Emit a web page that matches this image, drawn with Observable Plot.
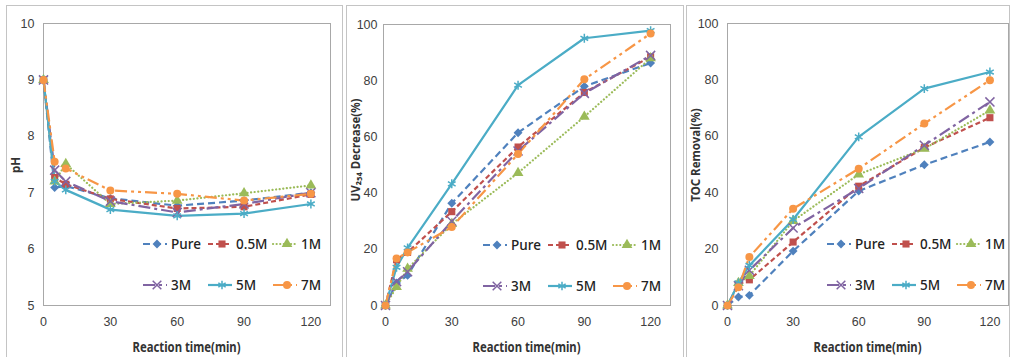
<!DOCTYPE html>
<html>
<head>
<meta charset="utf-8">
<script src="https://cdn.jsdelivr.net/npm/d3@7"></script>
<script src="https://cdn.jsdelivr.net/npm/@observablehq/plot@0.6"></script>
<style>
  html, body { margin: 0; padding: 0; background: #fff; }
  #wrap { position: relative; width: 1016px; height: 357px; overflow: hidden; background: #fff; }
  .panel { position: absolute; border: 1px solid #c4c4c4; box-sizing: border-box; }
  .chart { position: absolute; }
</style>
</head>
<body>
<div id="wrap"></div>
<script>
// ---------- data ----------
const times = [0, 5, 10, 30, 60, 90, 120];
const seriesNames = ["Pure", "0.5M", "1M", "3M", "5M", "7M"];
const legendLabels = ["Pure", "0.5M", "1M", "3M", "5M", "7M"];
const xTicks = [0, 30, 60, 90, 120];

const phValues = [
  [9, 7.09, 7.12, 6.90, 6.77, 6.86, 7.00],
  [9, 7.27, 7.15, 6.89, 6.72, 6.75, 6.97],
  [9, 7.20, 7.51, 6.80, 6.86, 6.99, 7.13],
  [9, 7.40, 7.20, 6.85, 6.65, 6.80, 7.00],
  [9, 7.20, 7.05, 6.70, 6.59, 6.63, 6.80],
  [9, 7.55, 7.43, 7.04, 6.98, 6.86, 6.98]
];
const uvValues = [
  [0, 8.0, 10.7, 36.4, 61.5, 78.0, 86.3],
  [0, 16.3, 18.9, 33.4, 56.4, 75.8, 88.5],
  [0, 6.6, 13.1, 29.0, 47.2, 67.2, 88.0],
  [0, 8.5, 12.0, 30.0, 55.0, 75.5, 89.0],
  [0, 13.6, 20.5, 43.3, 78.4, 95.1, 97.8],
  [0, 16.7, 18.9, 27.9, 53.9, 80.5, 96.8]
];
const tocValues = [
  [0, 3.0, 3.6, 19.3, 40.6, 49.9, 58.0],
  [0, 7.5, 9.1, 22.5, 42.3, 56.0, 66.6],
  [0, 8.0, 10.5, 30.0, 46.5, 55.6, 69.2],
  [0, 7.0, 12.5, 27.5, 41.5, 56.8, 72.2],
  [0, 8.0, 14.2, 30.5, 59.8, 76.9, 82.8],
  [0, 6.5, 17.2, 34.3, 48.5, 64.5, 79.9]
];
const phTicks = [5, 6, 7, 8, 9, 10];
const pctTicks = [0, 20, 40, 60, 80, 100];

// ---------- styles ----------
const colors = ["#4F81BD", "#C0504D", "#9BBB59", "#8064A2", "#4BACC6", "#F79646"];
const dashes = ["7,4", "5,3", "0.1,3.5", "12,4,3,4", null, "12,4,3,4,3,4"];
const symbols = ["diamond2", "square", "triangle", "times", "asterisk", "circle"];
const d3Symbols = [d3.symbolDiamond2, d3.symbolSquare, d3.symbolTriangle, d3.symbolTimes, d3.symbolAsterisk, d3.symbolCircle];
const strokeSym = [false, false, false, true, true, false];

const panels = [
  { values: phValues, yDomain: [5, 10], yTicks: phTicks, yTitle: "pH", titleCenter: 160,
    left: 6, width: 337, mL: 37, mR: 13, mT: 18, xDomain: [0, 128.8], tickPad: 9 },
  { values: uvValues, yDomain: [0, 100], yTicks: pctTicks, yTitle: "UV\u2082\u2085\u2084 Decrease(%)", titleCenter: 145,
    left: 346, width: 338, mL: 37, mR: 14, mT: 19, xDomain: [-0.9, 129], tickPad: 6 },
  { values: tocValues, yDomain: [0, 100], yTicks: pctTicks, yTitle: "TOC Removal(%)", titleCenter: 150,
    left: 686, width: 324, mL: 41, mR: 2, mT: 18, xDomain: [0, 128.5], tickPad: 9 }
];
const panelTop = 5, panelHeight = 348, mB = 48;
const FONT = "'Liberation Sans', Arial, sans-serif";
const LFONT = "'Noto Sans', 'Liberation Sans', sans-serif";

const wrap = document.getElementById("wrap");

panels.forEach((p) => {
  const border = document.createElement("div");
  border.className = "panel";
  Object.assign(border.style, { left: p.left + "px", top: panelTop + "px", width: p.width + "px", height: (panelHeight + 10) + "px" });
  wrap.appendChild(border);

  const marks = [Plot.frame({ stroke: "#a8a8a8", strokeWidth: 1 })];
  seriesNames.forEach((s, i) => {
    const data = times.map((t, j) => ({ t, v: p.values[i][j] }));
    marks.push(Plot.line(data, {
      x: "t", y: "v", stroke: colors[i], strokeWidth: 2.2,
      strokeDasharray: dashes[i] || undefined,
      strokeLinecap: i === 2 ? "round" : "butt"
    }));
  });
  seriesNames.forEach((s, i) => {
    const data = times.map((t, j) => ({ t, v: p.values[i][j] }));
    const opt = { x: "t", y: "v", symbol: symbols[i], r: strokeSym[i] ? 4.2 : 4 };
    if (strokeSym[i]) { opt.stroke = colors[i]; opt.strokeWidth = 1.5; opt.fill = "none"; }
    else { opt.fill = colors[i]; opt.stroke = "none"; }
    marks.push(Plot.dot(data, opt));
  });

  const svg = Plot.plot({
    width: p.width, height: panelHeight,
    marginLeft: p.mL, marginRight: p.mR, marginTop: p.mT, marginBottom: mB,
    x: { domain: p.xDomain, ticks: xTicks, tickSize: 0, tickPadding: 12, label: null, tickFormat: d3.format("d") },
    y: { domain: p.yDomain, ticks: p.yTicks, tickSize: 0, tickPadding: p.tickPad, label: null, tickFormat: d3.format("d") },
    style: { fontSize: "12.5px", fontFamily: FONT, color: "#404040", background: "transparent", overflow: "visible" },
    marks
  });
  svg.classList.add("chart");
  svg.style.left = p.left + "px";
  svg.style.top = panelTop + "px";
  wrap.appendChild(svg);

  const g = d3.select(svg);
  const plotCx = p.mL + (p.width - p.mL - p.mR) / 2;

  // x-axis title
  g.append("text")
    .attr("x", plotCx).attr("y", 347 - panelTop).attr("dy", "0.35em")
    .attr("text-anchor", "middle")
    .attr("font-family", LFONT).attr("font-weight", "bold").attr("font-size", 14)
    .attr("fill", "#333")
    .attr("textLength", 108).attr("lengthAdjust", "spacingAndGlyphs")
    .text("Reaction time(min)");

  // y-axis title
  g.append("text")
    .attr("transform", `translate(${10},${p.titleCenter}) rotate(-90)`)
    .attr("text-anchor", "middle").attr("dy", "0.35em")
    .attr("font-family", LFONT).attr("font-weight", "bold").attr("font-size", 11.5)
    .attr("fill", "#333")
    .text(p.yTitle);

  // legend
  const colX = [100, 165, 230];
  const rowY = [221, 262];
  const lg = g.append("g");
  legendLabels.forEach((lab, i) => {
    const x0 = p.mL + colX[i % 3];
    const y0 = p.mT + rowY[Math.floor(i / 3)];
    lg.append("line")
      .attr("x1", x0).attr("x2", x0 + 24).attr("y1", y0).attr("y2", y0)
      .attr("stroke", colors[i]).attr("stroke-width", 2.2)
      .attr("stroke-dasharray", dashes[i] || null)
      .attr("stroke-linecap", i === 2 ? "round" : "butt");
    const path = d3.symbol(d3Symbols[i], Math.PI * 16)();
    const sym = lg.append("path").attr("d", path).attr("transform", `translate(${x0 + 14},${y0})`);
    if (strokeSym[i]) sym.attr("fill", "none").attr("stroke", colors[i]).attr("stroke-width", 1.5);
    else sym.attr("fill", colors[i]);
    lg.append("text")
      .attr("x", x0 + 28).attr("y", y0).attr("dy", "0.35em")
      .attr("text-anchor", "start")
      .attr("font-family", LFONT).attr("font-size", 13.5).attr("font-weight", 500)
      .attr("fill", "#222")
      .text(lab);
  });
});
</script>
</body>
</html>
